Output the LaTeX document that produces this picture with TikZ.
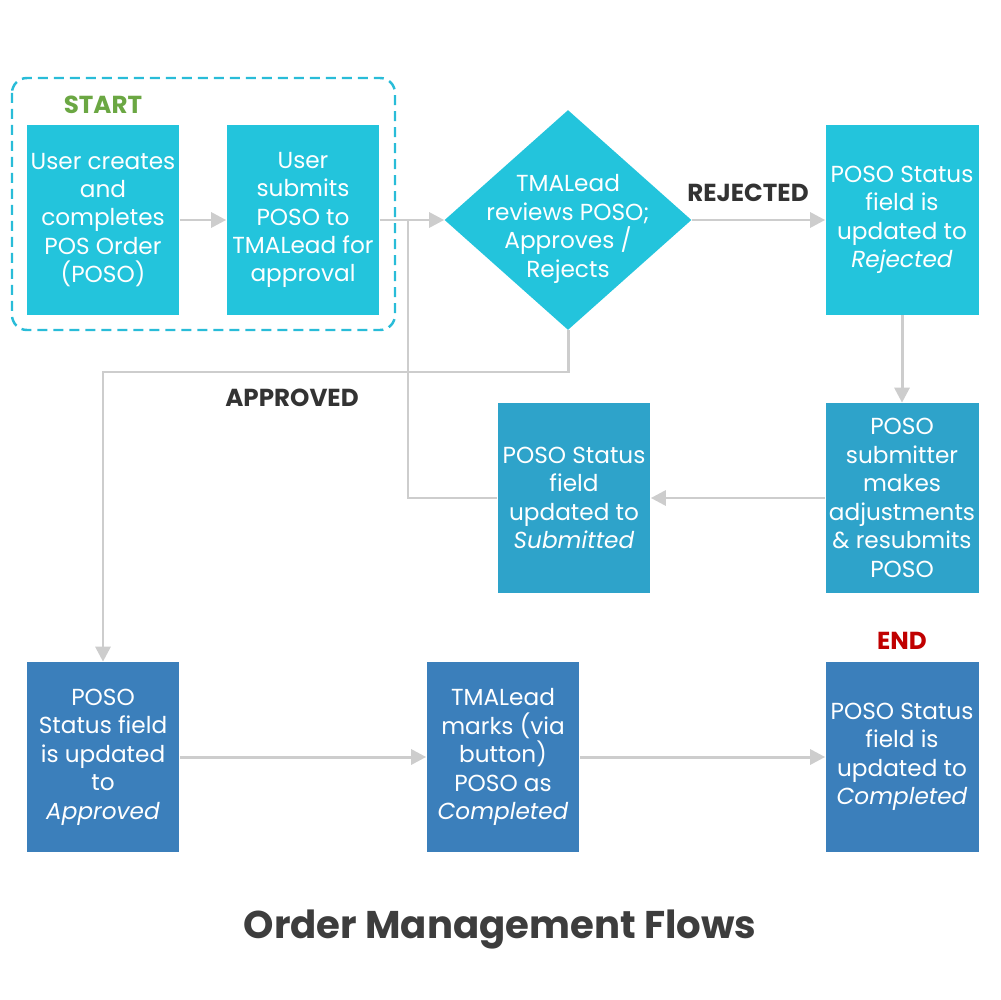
\documentclass[tikz,border=0pt]{standalone}
\usepackage{fontspec}
\setmainfont{Poppins}
\usepackage{tikz}
\usetikzlibrary{positioning, shapes.geometric, arrows.meta}

\definecolor{topcyan}{HTML}{23C4DC}
\definecolor{midblue}{HTML}{2EA3CA}
\definecolor{lowblue}{HTML}{3B7FBB}
\definecolor{linegray}{HTML}{CDCDCD}
\definecolor{dashcyan}{HTML}{29BCD8}
\definecolor{startgreen}{HTML}{6BA743}
\definecolor{endred}{HTML}{C00000}
\definecolor{labelgray}{HTML}{333333}

\begin{document}
\begin{tikzpicture}[x=0.02cm, y=-0.02cm,
  box/.style={rectangle, minimum width=3.06cm, minimum height=3.8cm, inner sep=0pt,
    align=center, text=white, font=\fontsize{13.2}{16.2}\selectfont},
  decision/.style={diamond, fill=topcyan, minimum width=4.94cm, minimum height=4.4cm, inner sep=0pt},
  flowlabel/.style={font=\fontsize{14}{16}\selectfont\bfseries},
  >={Triangle[length=0.3cm, width=0.3cm]}]
\useasboundingbox (0,0) rectangle (1000,1000);

\draw[dashcyan, line width=1.4pt, dash pattern=on 0.2cm off 0.12cm, rounded corners=0.3cm]
  (12,78) rectangle (395,330);
\node[flowlabel, text=startgreen] (start) at (103,105) {START};

\node[box, fill=topcyan] (create) at (103,220) {User creates\\and\\completes\\POS Order\\(POSO)};
\node[box, fill=topcyan] (submit) at (303,220) {User\\submits\\POSO to\\TMALead for\\approval};
\node[decision] (review) at (568,220) {};
\node[align=center, text=white, font=\fontsize{13.2}{16.2}\selectfont] (reviewtxt) at (568,229)
  {TMALead\\reviews POSO;\\Approves /\\Rejects};
\node[box, fill=topcyan] (rejected) at (902,220) {POSO Status\\field is\\updated to\\\textit{Rejected}};

\node[box, fill=midblue] (resubmit) at (902,498) {POSO\\submitter\\makes\\adjustments\\\& resubmits\\POSO};
\node[box, fill=midblue] (submitted) at (574,498) {POSO Status\\field\\updated to\\\textit{Submitted}};

\node[box, fill=lowblue] (approved) at (103,757) {POSO\\Status field\\is updated\\to\\\textit{Approved}};
\node[box, fill=lowblue] (marks) at (503,757) {TMALead\\marks (via\\button)\\POSO as\\\textit{Completed}};
\node[box, fill=lowblue] (completed) at (902,757) {POSO Status\\field is\\updated to\\\textit{Completed}};
\node[flowlabel, text=endred] (end) at (902,641) {END};

\node[flowlabel, text=labelgray] (rejlbl) at (748,193) {REJECTED};
\node[flowlabel, text=labelgray] (aprlbl) at (292,398) {APPROVED};

\coordinate (join) at (408,220);
\coordinate (aprbend) at (103,372);

\begin{scope}[linegray, line width=1.7pt]
\draw[->] (create) -- (submit);
\draw[->] (submit) -- (review);
\draw (submitted) -| (join);
\draw[->] (review) -- (rejected);
\draw[->] (rejected) -- (resubmit);
\draw[->] (resubmit) -- (submitted);
\draw[->] (review.south) |- (aprbend) -- (approved);
\draw[->] (approved) -- (marks);
\draw[->] (marks) -- (completed);
\end{scope}

\node[font=\fontsize{22}{26}\selectfont\bfseries, text=labelgray!95] (title) at (500,930) {Order Management Flows};
\end{tikzpicture}
\end{document}
